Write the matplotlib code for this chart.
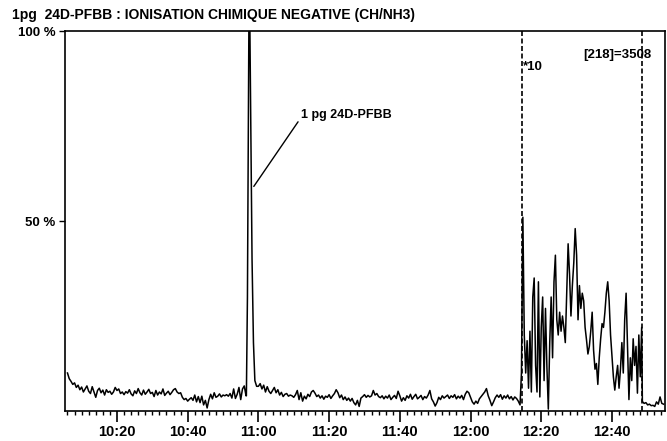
import numpy as np
import matplotlib
matplotlib.use("Agg")
import matplotlib.pyplot as plt
from matplotlib.ticker import FixedLocator, MultipleLocator

plt.rcParams['font.family'] = ['Liberation Sans', 'DejaVu Sans']
plt.rcParams['font.weight'] = 'bold'

# temps en minutes depuis minuit, intensité en % du pic
# ligne de base avant le pic (pas de 0.5 min a partir de 10:06)
base_a_start = 606.0
base_a = [10.0, 8.5, 7.8, 7.0, 7.4, 6.2, 6.8, 5.6, 6.3, 5.0, 5.8, 6.6, 5.2, 4.6, 6.4, 5.0,
          3.6, 5.4, 6.0, 4.8, 5.5, 4.2, 5.6, 4.9, 5.2, 4.4, 5.0, 6.2, 5.4, 5.8, 4.6, 5.0,
          4.3, 5.1, 4.7, 5.6, 4.5, 4.0, 5.3, 4.6, 5.9, 4.8, 4.2, 5.5, 4.4, 5.0, 5.7, 4.6,
          4.9, 3.8, 5.4, 4.2, 5.0, 4.5, 5.8, 4.1, 4.7, 5.2, 4.3, 4.9, 5.6, 5.9, 5.0, 4.6,
          4.8, 3.6, 3.0, 3.3, 2.6, 3.1, 3.5, 2.8, 4.2, 2.4, 3.8, 2.2, 3.9, 1.6, 2.8, 0.8,
          3.0, 4.4, 3.2, 4.8, 3.6, 3.9, 4.5, 3.7, 4.2, 4.0, 4.3, 3.9, 4.6, 3.4, 5.8, 3.3,
          4.4, 6.2, 3.0, 5.8, 6.6, 4.0]

# pic 1 pg 24D-PFBB
peak_t = [656.6, 656.9, 657.3, 657.6, 657.9, 658.2, 658.6, 659.0, 659.5]
peak_v = [4.0, 30.0, 100.0, 100.0, 70.0, 40.0, 18.0, 8.0, 6.5]

# ligne de base apres le pic (pas de 0.5 min a partir de 11:00)
base_b_start = 660.0
base_b = [6.5, 7.2, 5.8, 6.8, 5.0, 6.4, 5.2, 4.6, 5.4, 6.2, 4.8, 5.6, 4.2, 4.9, 3.8, 4.4,
          4.6, 3.9, 4.2, 4.0, 3.6, 4.3, 5.4, 3.0, 4.8, 2.6, 3.9, 3.2, 4.4, 3.8, 5.0, 5.4,
          4.7, 3.8, 4.2, 3.4, 4.0, 3.1, 3.9, 3.6, 4.3, 3.3, 4.0, 4.6, 5.6, 4.8, 3.5, 4.2,
          3.0, 3.7, 2.8, 3.4, 2.6, 3.3, 2.2, 1.6, 2.8, 1.2, 3.4, 3.8, 4.3, 3.6, 4.1, 3.7,
          4.0, 5.4, 4.2, 4.6, 3.8, 3.5, 4.0, 3.2, 3.9, 3.4, 4.2, 3.0, 3.6, 4.1, 3.3, 5.2,
          4.0, 2.6, 3.5, 2.8, 4.0, 3.4, 4.4, 3.1, 3.8, 4.4, 3.2, 3.6, 4.1, 3.0, 3.8, 3.4,
          4.2, 5.4, 3.2, 2.4, 1.3, 2.2, 3.6, 3.0, 4.0, 3.4, 3.8, 4.2, 3.3, 4.0, 3.6, 4.3,
          3.2, 3.9, 3.4, 4.1, 3.0, 4.4, 5.2, 4.8, 3.6, 2.4, 1.8, 2.6, 2.0, 3.2, 3.8, 4.4,
          5.0, 5.9, 4.0, 2.8, 1.4, 2.4, 3.5, 4.2, 3.6, 4.3, 3.1, 4.0, 3.4, 4.2, 3.2, 3.8,
          2.9, 3.7, 3.3, 2.6, 1.6]

# zone agrandie *10 (pas de 0.4 min a partir de 12:14.4)
zoom_start = 734.4
zoom_v = [10, 51, 20, 10, 18.5, 6, 21, 5, 30, 35, 12, 5, 34, 3.7, 22, 30,
          8, 27, 11.5, 0.5, 18, 30, 14, 34, 41, 24, 20, 26, 21, 25, 22, 18,
          31, 44, 36, 25, 33, 39, 48, 41, 24, 33, 27, 31, 29, 22, 18.7, 15,
          17, 21, 26, 16, 11, 12.5, 7, 14, 19, 23, 22, 26, 31, 34, 29, 20,
          14.7, 9, 5.5, 9, 12, 6, 11, 18, 10, 24, 31, 17, 3, 14, 8, 19,
          12, 17, 4.7, 20, 9, 22]

# fin de la trace (pas de 0.5 min a partir de 12:48.6)
end_start = 768.6
end_v = [2.5, 2.0, 2.2, 1.6, 1.8, 1.4, 1.5, 1.2, 2.4, 1.8, 3.7, 2.0, 1.8]

zoom_limits = [734.5, 768.5]
xticks = [620, 640, 660, 680, 700, 720, 740, 760]
xtick_labels = ["10:20", "10:40", "11:00", "11:20", "11:40", "12:00", "12:20", "12:40"]

t = np.concatenate([
    base_a_start + 0.5 * np.arange(len(base_a)),
    peak_t,
    base_b_start + 0.5 * np.arange(len(base_b)),
    zoom_start + 0.4 * np.arange(len(zoom_v)),
    end_start + 0.5 * np.arange(len(end_v)),
])
v = np.concatenate([base_a, peak_v, base_b, zoom_v, end_v])

fig = plt.figure(figsize=(6.67, 4.41), dpi=100)
ax = fig.add_axes([65 / 667, 30 / 441, 600 / 667, 380 / 441])

ax.plot(t, v, color='black', lw=1.1)

for xz in zoom_limits:
    ax.axvline(xz, color='black', lw=1.2, ls=(0, (3, 1.5)))

ax.set_xlim(605.3, 775.0)
ax.set_ylim(0, 100)

ax.xaxis.set_major_locator(FixedLocator(xticks))
ax.set_xticklabels(xtick_labels, fontsize=10.5, fontweight='bold')
ax.xaxis.set_minor_locator(MultipleLocator(2))
ax.tick_params(axis='x', which='major', length=8, width=1.2, direction='out', pad=2)
ax.tick_params(axis='x', which='minor', length=3, width=1.0, direction='out')

ax.set_yticks([50, 100])
ax.set_yticklabels(["50 %", "100 %"], fontsize=9.5, fontweight='bold')
ax.tick_params(axis='y', which='major', length=4, width=1.0, direction='out', pad=3)

for s in ax.spines.values():
    s.set_linewidth(1.2)

fig.text(12 / 667, 1 - 19 / 441, "1pg  24D-PFBB : IONISATION CHIMIQUE NEGATIVE (CH/NH3)",
         fontsize=10, fontweight='bold', ha='left', va='baseline')

ax.annotate("1 pg 24D-PFBB", xy=(658.7, 59.1), xytext=(672.0, 77.8),
            fontsize=9, fontweight='bold', va='center', ha='left',
            arrowprops=dict(arrowstyle='-', color='black', lw=1.0, shrinkA=0, shrinkB=0,
                            relpos=(0, 0.3)))
ax.text(734.8, 90.4, "*10", fontsize=9.5, fontweight='bold', va='center', ha='left')
ax.text(751.8, 93.6, "[218]=3508", fontsize=9.5, fontweight='bold', va='center', ha='left')

fig.savefig("out.png", dpi=100)
